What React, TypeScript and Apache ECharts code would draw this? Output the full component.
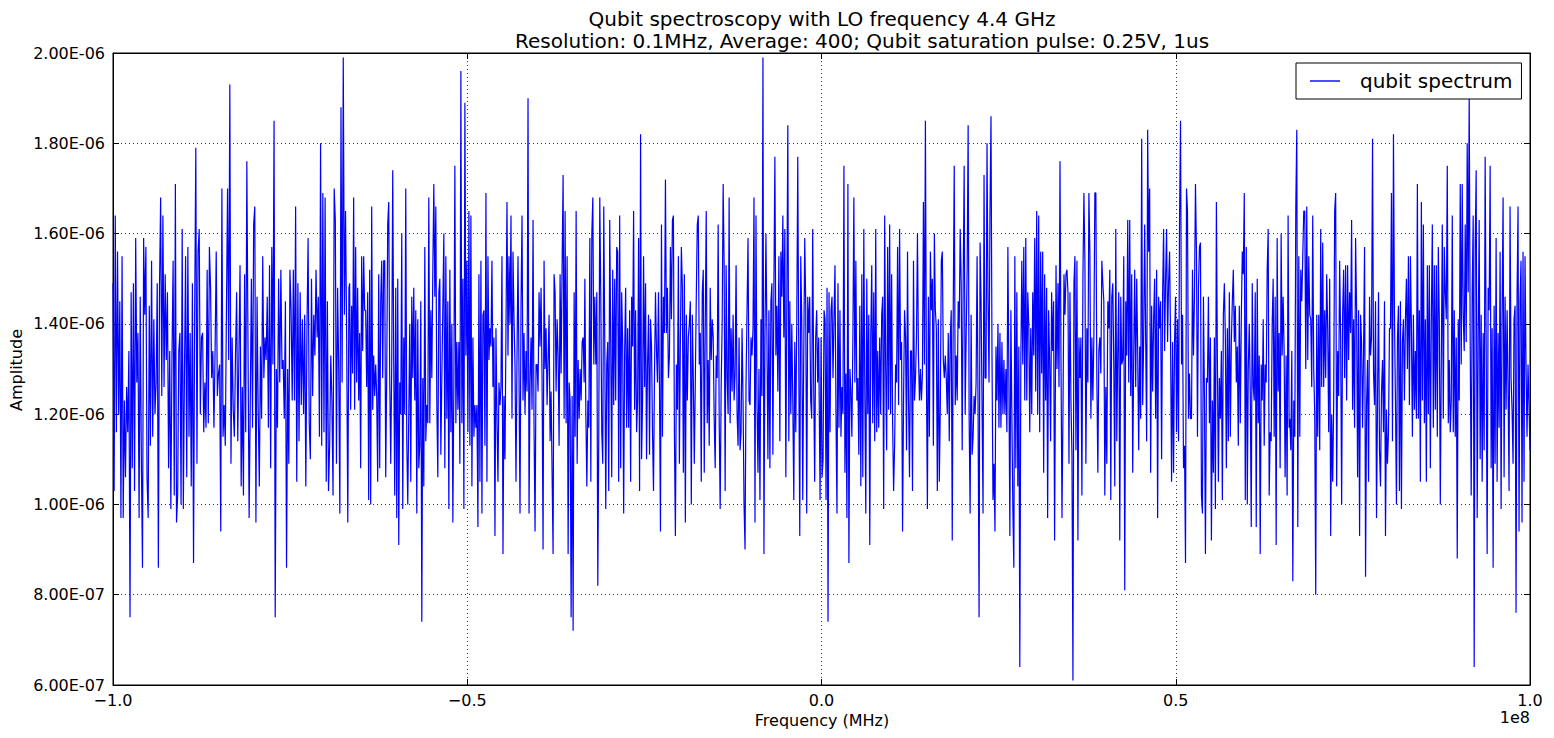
import React, { useEffect, useRef } from "react";
import * as echarts from "echarts";

// Each segment spans the frequency range given in segmentStartMHz/segmentEndMHz.
const amplitudeSeg1 = [1.49,1.03,1.64,1.16,1.56,1.20,1.45,0.97,1.55,0.97,1.23,1.06,1.26,1.16,1.34,0.75,1.47,1.08,1.49,1.03,1.59,1.27,1.38,0.97,1.46,1.10,0.86,1.59,1.42,1.57,1.06,0.97,1.44,1.13,1.54,1.15,1.41,1.20,1.27,1.49,0.86,1.48,1.68,1.24,1.64,1.26,1.51,1.32,1.47,1.08,1.34,0.99,1.33,1.54,1.02,1.71,0.96,1.02,1.34,1.38,1.00,1.61,0.99,1.29,1.55,1.06,1.57,1.15,1.38,1.04,1.49,0.87,1.42,1.79,1.09,1.56,1.61,1.20,1.37,1.38,1.16,1.27,1.17,1.52,1.18,1.57,1.48,1.28,1.34,1.17,1.34,1.56,1.24,1.29,1.31,0.94,1.70,1.15,1.22,1.13,1.43,1.70,1.32,1.93,1.09,1.37,1.21,1.15,1.33,1.47,1.14,1.33,1.53,1.04,1.26,1.02,1.51,1.16,1.76,1.36,0.97,1.22,1.50,1.17,1.62,1.66,0.96,1.46,1.21,1.04,1.35,1.19,1.55,1.28,1.37,1.32,1.46,1.17,1.53,1.08,1.57,1.31,1.85,0.75,1.30,1.17,1.50,1.27,1.52,1.30,1.32,1.19,1.45,0.86,1.30,1.09,1.52,1.43,1.23,1.52,1.23,1.66,1.05,1.49,1.14,1.47,1.22,1.41,1.20,1.42,1.04,1.39,1.59,1.18,1.10,1.50,1.24,1.42,1.33,1.52,1.37,1.46,1.15,1.80,1.13,1.69,1.16,1.68,1.05,1.45,1.03,1.13,1.33,1.23,1.02,1.70,1.63,1.09,1.48,1.30,0.98,1.88,1.27,1.99,1.42,1.65,1.37,0.96,1.48];
const amplitudeSeg2 = [1.49,1.21,1.44,1.29,1.68,1.21,1.57,1.27,1.48,1.23,1.38,1.08,1.55,1.34,1.55,1.43,1.43,1.26,1.47,1.01,1.52,1.00,1.66,1.21,1.33,1.24,1.31,1.24,1.05,1.51,1.08,1.45,1.54,1.28,1.54,1.54,1.06,1.29,1.62,1.67,1.28,1.09,1.31,1.74,1.32,1.02,1.48,0.97,1.50,0.91,1.27,1.20,1.60,0.99,1.37,1.20,1.70,1.14,1.00,1.20,1.40,1.05,1.46,1.28,1.48,1.23,1.43,0.98,1.41,1.08,1.13,1.45,0.74,1.28,1.04,1.57,1.14,1.22,1.18,1.68,1.18,1.43,1.28,1.52,1.71,1.46,1.66,1.22,1.06,1.47,1.50,1.11,1.28,1.44,1.60,1.08,1.55,1.19,1.45,0.99,1.52,1.16,1.40,0.96,1.27,1.75,1.18,1.36,1.21,1.36,1.09,1.96,1.18,1.50,0.99,1.89,1.33,1.54,1.16,1.65,1.13,1.64,1.04,1.37,1.15,1.22,1.17,1.22,0.95,1.51,1.05,1.54,0.98,1.42,1.43,1.13,1.69,1.05,1.55,1.32,1.39,1.35,1.54,1.26,1.37,0.93,1.39,1.19,1.05,1.27,1.22,1.26,1.55,0.89,1.24,1.10,1.39,1.67,1.33,1.55,1.40,1.64,1.19,1.56,1.41,1.31,1.05,1.33,1.55,1.29,0.98,1.44,1.64,1.23,1.38,1.20,1.34,1.25,1.90,0.98,1.27,1.37,1.21,1.63,1.17,0.94,1.31,1.31,1.25,1.47,1.35,1.48,1.28,0.90,1.54,1.30,1.39,1.22,1.32,1.42,1.14,1.25,1.07,0.89,1.51,1.47,1.25,1.41,1.33,1.13,1.51,1.29,1.53,1.73,1.19,1.65,1.18,1.55,0.89,1.27,1.23,0.75,1.24,0.72,1.47,1.15,1.65,1.09,1.32,1.19,1.30,1.23,1.36,1.37,1.27];
const amplitudeSeg3 = [1.50,1.20,1.04,1.23,1.17,1.59,1.05,1.60,1.68,1.31,1.46,1.31,1.47,0.82,1.16,1.68,1.46,1.16,1.09,1.66,1.36,0.99,1.31,1.36,1.03,1.63,1.36,1.06,1.52,1.22,1.50,1.23,1.57,1.56,1.05,1.64,1.08,1.47,1.36,0.98,1.34,1.48,1.17,1.39,1.17,1.43,1.05,1.46,1.35,1.65,1.21,1.43,1.16,1.23,1.59,1.03,1.82,1.10,1.23,1.55,1.26,1.49,1.10,1.31,1.42,1.11,1.41,1.35,1.16,1.03,1.29,1.47,1.34,1.27,1.47,1.26,0.94,1.62,1.15,1.46,1.38,1.72,1.38,1.48,1.28,1.33,1.57,1.41,1.63,1.64,1.16,0.93,1.31,1.21,1.55,1.09,1.36,1.57,1.48,1.07,1.51,0.96,1.42,1.23,1.37,1.40,1.45,1.00,1.42,1.28,1.09,1.27,1.46,1.62,1.64,1.31,1.38,1.05,1.47,1.52,1.07,1.40,1.65,1.18,1.32,1.13,1.48,1.32,1.41,1.37,1.19,1.08,1.33,1.28,1.62,1.19,0.99,1.26,1.40,1.71,1.53,1.03,1.53,1.28,1.20,1.68,1.18,1.39,1.25,1.42,1.23,1.29,1.53,1.20,1.13,1.37,1.12,1.16,1.39,1.23,1.00,0.90,1.27,1.43,1.59,1.23,1.22,1.37,1.33,1.39,1.68,0.96,1.64,1.23,1.07,1.30,1.01,1.41,1.24,1.99,0.89,1.37,1.60,1.37,1.10,1.43,1.08,1.45,1.49,1.11,1.48,1.77,1.33,1.44,1.25,1.55,1.14,1.56,1.46,1.64,1.37,1.61,1.06,1.45,1.84,1.14,1.45,1.20,1.40,1.23,1.01,1.36,1.16,1.41,1.77,1.32,0.93,1.55,1.41,1.01,1.33,1.59,1.44,0.98,1.46,1.38,1.46,1.23,1.19,1.61,1.27,1.05,1.37,1.43,1.27,1.37];
const amplitudeSeg4 = [1.01,1.37,1.06,1.10,1.43,1.41,1.01,1.48,0.74,1.47,1.16,1.43,1.46,1.28,1.41,1.53,1.20,0.98,1.49,1.17,1.43,1.15,1.26,1.20,1.75,1.07,1.29,0.97,1.71,0.87,1.30,1.25,1.15,1.37,1.68,1.27,1.54,1.23,1.28,1.11,1.44,1.04,1.51,1.06,1.61,1.26,0.98,1.50,1.20,1.42,0.91,1.37,1.53,1.18,1.47,1.14,1.61,1.16,1.34,1.17,1.37,1.20,1.42,1.46,0.99,1.64,1.30,1.12,1.57,1.21,1.62,1.20,1.51,1.18,1.03,1.13,1.31,1.27,1.57,1.22,1.61,1.32,1.36,0.94,1.23,1.43,1.37,1.12,1.56,1.23,1.06,1.34,1.34,1.03,1.54,1.23,1.28,1.37,1.60,1.33,1.23,1.30,1.23,1.29,1.67,1.31,1.85,1.29,0.99,1.46,1.15,1.56,1.43,1.50,1.13,1.60,1.43,1.39,1.03,1.41,1.05,1.22,1.54,1.56,1.32,1.28,1.33,1.28,1.20,1.38,1.14,1.37,1.43,0.92,1.43,1.75,1.22,1.33,1.23,1.45,1.39,1.61,1.49,1.12,1.49,1.75,1.20,1.37,1.52,1.84,1.19,0.98,1.42,1.11,1.15,1.24,1.20,1.27,1.55,1.21,0.75,1.58,1.45,1.22,0.98,1.73,1.28,1.28,1.80,1.46,1.27,1.65,1.86,1.33,1.01,1.09,0.94,1.35,1.23,1.40,1.17,1.38,1.17,1.36,1.20,1.32,1.20,1.30,1.16,1.57,1.28,0.93,1.43,1.20,0.99,0.86,1.55,1.08,1.47,1.04,1.35,0.64,1.31,1.54,1.31,1.57,1.23,1.59,1.23,1.47,1.40,1.16,1.39,1.20,1.47,1.33,1.59,1.25,1.65,1.20,1.64,1.16,1.56,1.29,1.56,1.07,1.51,1.23,1.48,0.97,1.43,1.32,1.14,1.47,1.34,1.45,0.92];
const amplitudeSeg5 = [1.53,1.30,1.49,1.26,1.76,1.32,0.97,1.21,1.51,1.42,1.51,1.52,1.47,1.09,1.47,1.23,1.11,0.61,1.49,1.55,1.12,1.54,0.92,1.37,1.28,1.37,1.02,1.50,1.69,1.54,1.09,1.39,1.27,1.69,1.56,1.19,1.37,1.23,1.37,1.69,1.69,1.28,1.07,1.34,1.37,1.29,1.54,1.49,1.45,1.02,1.26,1.09,1.45,1.39,1.52,1.01,1.46,1.49,1.31,1.04,1.61,1.14,1.34,1.47,0.92,1.46,1.31,1.32,1.55,0.81,1.45,1.33,1.63,1.27,1.63,1.24,1.51,1.07,1.33,1.52,1.26,1.50,1.34,1.12,1.35,1.19,1.81,1.22,1.37,1.62,1.37,1.14,1.83,1.56,1.70,1.07,1.44,1.25,1.41,1.50,1.19,1.52,0.97,1.46,1.39,1.45,1.10,1.46,1.61,1.34,1.50,1.61,1.36,1.49,1.56,1.36,1.05,1.36,1.07,1.36,1.46,1.16,1.41,1.14,1.63,1.85,1.31,1.42,1.08,1.13,0.87,1.70,1.65,1.19,1.29,1.19,1.19,1.52,1.33,1.46,1.71,1.56,1.15,1.48,1.57,1.58,1.02,0.98,1.46,1.24,0.89,1.28,1.27,1.46,1.18,1.37,0.92,1.23,1.07,1.37,0.99,1.67,1.32,1.05,1.28,1.19,1.34,1.01,1.42,1.49,1.37,1.08,1.39,1.14,1.47,1.15,1.36,1.45,1.52,1.36,1.44,1.27,1.35,1.13,1.44,1.18,1.41,1.56,1.51,1.69,1.01,1.57,1.00,1.30,1.40,1.25,0.95,1.49,1.26,1.23,1.47,0.95,1.50,1.18,1.33,0.89,1.31,1.23,1.41,1.13,1.31,1.27,1.52,1.61,1.02,1.16,1.14,1.40,1.50,1.15,1.46,0.91,1.59,1.25,1.38,1.08,1.60,1.33,1.46,1.34,1.06,1.33,1.02,1.64,1.17];
const amplitudeSeg6 = [1.19,1.12,1.34,0.83,1.23,1.15,1.66,1.83,0.95,1.55,1.15,1.52,1.45,1.55,1.65,1.65,1.30,1.66,1.32,1.55,1.42,1.41,1.26,1.64,1.30,1.20,0.80,1.42,1.15,1.42,1.12,1.61,1.26,1.58,1.26,1.43,1.28,1.51,1.39,1.16,1.50,0.93,1.20,1.05,1.22,1.65,1.69,1.04,1.34,1.24,1.54,1.37,1.00,1.42,1.52,1.28,1.53,1.23,1.53,1.32,1.47,1.38,1.63,1.21,1.41,1.17,1.59,1.43,1.06,1.43,0.93,1.42,1.36,1.17,1.34,1.57,0.84,1.22,1.32,1.05,1.46,1.33,1.37,1.81,1.29,1.22,1.45,0.97,1.23,1.47,1.12,1.04,1.25,1.32,1.16,1.45,0.93,1.21,1.09,1.16,1.39,1.39,1.69,1.14,1.82,1.42,1.23,1.00,1.37,1.44,1.03,1.45,0.99,1.36,1.41,1.23,1.41,1.50,1.30,1.55,1.22,1.55,1.39,1.15,1.42,1.21,1.34,1.19,1.71,1.19,1.43,1.05,1.67,1.23,1.62,1.18,1.41,1.05,1.53,1.20,1.53,1.08,1.41,1.62,1.17,1.53,1.21,1.53,1.15,1.57,1.41,1.00,1.32,1.62,1.19,1.57,1.47,1.41,1.75,1.18,1.32,1.16,1.23,1.64,1.16,1.43,1.15,1.37,0.88,1.41,1.23,1.71,1.31,1.71,1.42,1.34,1.62,1.36,1.80,1.47,1.91,1.36,1.02,1.47,1.64,0.64,1.58,1.74,0.97,1.36,1.63,1.10,1.42,1.05,1.38,1.12,1.77,1.36,0.89,1.48,1.43,1.75,1.08,1.39,0.86,1.44,1.09,1.59,1.05,1.38,1.17,1.56,0.99,1.42,1.68,1.06,1.46,1.21,1.43,1.26,1.03,1.66,1.28,1.21,1.09,1.41,1.44,0.76,1.46,1.66,0.94,1.45,1.54,0.96,1.56,1.05,1.55,1.31,1.15,1.31,1.22,1.12];

const amplitudeSegments = [amplitudeSeg1, amplitudeSeg2, amplitudeSeg3, amplitudeSeg4, amplitudeSeg5, amplitudeSeg6];
const segmentStartMHz = [-100.0, -66.6, -33.4, -0.2, 33.1, 66.1];
const segmentEndMHz = [-66.7, -33.5, -0.4, 32.9, 66.0, 100.0];

const xTickMin = -1e8;
const xTickMax = 1e8;
const xTickStep = 5e7;
const yTickMin = 0.6; // x1e-6
const yTickMax = 2.0;
const yTickStep = 0.2;

const titleLine1 = "Qubit spectroscopy with LO frequency 4.4 GHz";
const titleLine2 = "Resolution: 0.1MHz, Average: 400; Qubit saturation pulse: 0.25V, 1us";
const seriesName = "qubit spectrum";
const xAxisTitle = "Frequency (MHz)";
const yAxisTitle = "Amplitude";
const xOffsetText = "1e8";

const FONT = '"DejaVu Sans", "Liberation Sans", sans-serif';

function buildSeriesData(): [number, number][] {
  const out: [number, number][] = [];
  amplitudeSegments.forEach((seg, s) => {
    const a = segmentStartMHz[s];
    const b = segmentEndMHz[s];
    const n = seg.length;
    seg.forEach((v, i) => {
      const fMHz = a + ((b - a) * i) / (n - 1);
      out.push([fMHz * 1e6, v]);
    });
  });
  return out;
}

function formatY(v: number): string {
  const s = (v * 1e-6).toExponential(2).toUpperCase();
  return s.replace(/E([+-])(\d)$/, (_m: string, sg: string, d: string) => "E" + sg + "0" + d);
}

function formatX(v: number): string {
  const s = (v / 1e8).toFixed(1);
  return s.replace("-", "\u2212");
}

export default function App() {
  const ref = useRef<HTMLDivElement>(null);

  useEffect(() => {
    if (!ref.current) return;
    const chart = echarts.init(ref.current, undefined, { renderer: "svg" });
    const gridLine = { show: true, lineStyle: { color: "#000", type: [1, 3], width: 0.8 } };
    const tick = { show: true, inside: true, length: 6, lineStyle: { color: "#000", width: 1 } };
    const axisLine = { show: true, onZero: false, lineStyle: { color: "#000", width: 1 } };

    chart.setOption({
      animation: false,
      backgroundColor: "#fff",
      grid: { left: 113, right: 24, top: 53, bottom: 53, show: true, borderColor: "#000", borderWidth: 1, backgroundColor: "#fff" },
      xAxis: [
        {
          type: "value",
          min: xTickMin,
          max: xTickMax,
          interval: xTickStep,
          axisLine,
          axisTick: tick,
          splitLine: gridLine,
          axisLabel: { show: true, formatter: formatX, fontSize: 16, fontFamily: FONT, color: "#000", margin: 7, showMinLabel: true, showMaxLabel: true },
        },
        {
          type: "value",
          position: "top",
          min: xTickMin,
          max: xTickMax,
          interval: xTickStep,
          axisLine,
          axisTick: tick,
          splitLine: { show: false },
          axisLabel: { show: false },
        },
      ],
      yAxis: [
        {
          type: "value",
          min: yTickMin,
          max: yTickMax,
          interval: yTickStep,
          axisLine,
          axisTick: tick,
          splitLine: gridLine,
          axisLabel: { show: true, formatter: formatY, fontSize: 16, fontFamily: FONT, color: "#000", margin: 8, showMinLabel: true, showMaxLabel: true },
        },
        {
          type: "value",
          position: "right",
          min: yTickMin,
          max: yTickMax,
          interval: yTickStep,
          axisLine,
          axisTick: tick,
          splitLine: { show: false },
          axisLabel: { show: false },
        },
      ],
      legend: {
        show: true,
        left: 1296,
        top: 63,
        data: [{ name: seriesName, icon: "rect" }],
        itemWidth: 30,
        itemHeight: 1.4,
        padding: [8, 9, 8, 14],
        borderColor: "#000",
        borderWidth: 1,
        borderRadius: 0,
        backgroundColor: "#fff",
        selectedMode: false,
        textStyle: { fontSize: 20, fontFamily: FONT, color: "#000", padding: [0, 0, 0, 15] },
        z: 10,
      },
      series: [
        {
          name: seriesName,
          type: "line",
          xAxisIndex: 0,
          yAxisIndex: 0,
          data: buildSeriesData(),
          showSymbol: false,
          symbol: "none",
          lineStyle: { color: "#0000ff", width: 1.2 },
          itemStyle: { color: "#0000ff" },
          clip: true,
        },
      ],
      graphic: [
        { type: "text", x: 822, y: 19, style: { text: titleLine1, font: `20px ${FONT}`, fill: "#000", align: "center", verticalAlign: "middle" } },
        { type: "text", x: 862, y: 41, style: { text: titleLine2, font: `20px ${FONT}`, fill: "#000", align: "center", verticalAlign: "middle" } },
        { type: "text", x: 822, y: 720, style: { text: xAxisTitle, font: `16px ${FONT}`, fill: "#000", align: "center", verticalAlign: "middle" } },
        { type: "text", x: 16, y: 370, rotation: Math.PI / 2, style: { text: yAxisTitle, font: `16px ${FONT}`, fill: "#000", align: "center", verticalAlign: "middle" } },
        { type: "text", x: 1530, y: 717, style: { text: xOffsetText, font: `16px ${FONT}`, fill: "#000", align: "right", verticalAlign: "middle" } },
      ],
    });
    return () => chart.dispose();
  }, []);

  return (
    <div
      ref={ref}
      style={{ position: "fixed", left: 0, top: 0, width: 1554, height: 738, background: "#fff" }}
    />
  );
}
